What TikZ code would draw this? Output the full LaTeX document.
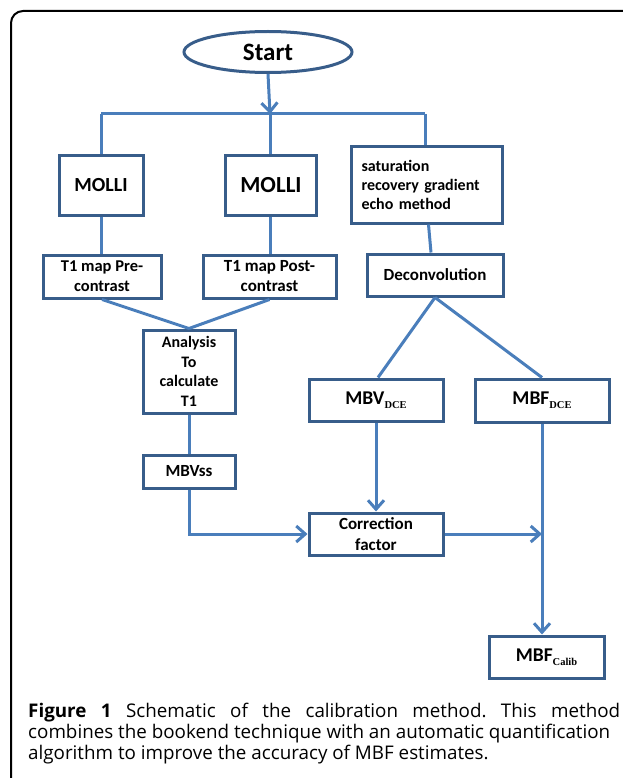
\documentclass[tikz,border=0pt]{standalone}
\usepackage{fontspec}
\setmainfont{Carlito}
\newfontfamily\capfont{Open Sans}
\newfontfamily\subfont{Liberation Serif}
\usetikzlibrary{arrows.meta,shapes.geometric}
\definecolor{boxline}{RGB}{56,93,138}
\definecolor{linkblue}{RGB}{74,126,187}
\newcommand{\subtxt}[1]{\raisebox{-4pt}{\fontsize{10.5}{12}\selectfont\subfont\bfseries #1}}
\frenchspacing
\begin{document}
\begin{tikzpicture}[x=1pt,y=-1pt,
  box/.style={draw=boxline, line width=3pt, fill=white, inner sep=0pt, align=center, font=\bfseries},
  link/.style={draw=linkblue, line width=3pt},
  arr/.style={link, -{Straight Barb[length=9pt,width=16pt]}},
]
\useasboundingbox (0,0) rectangle (622,778);
% outer frame
\draw[line width=2pt, black, rounded corners=12pt] (11,790) -- (11,11) -- (640,11);

% nodes
\node[box, ellipse, minimum width=168pt, minimum height=41pt, font=\bfseries\fontsize{25}{28}\selectfont] (start) at (268,52) {Start};
\node[box, minimum width=84pt, minimum height=59pt, font=\bfseries\fontsize{20}{24}\selectfont] (m1) at (101,185.5) {MOLLI};
\node[box, minimum width=91pt, minimum height=59pt, font=\bfseries\fontsize{23}{26}\selectfont] (m2) at (271,185.5) {MOLLI};
\node[box, minimum width=151pt, minimum height=76pt, text width=130pt, align=left, font=\bfseries\fontsize{16}{19}\selectfont] (sat) at (426.5,185) {saturation\\recovery gradient\\echo method};
\node[box, minimum width=118pt, minimum height=43pt, font=\bfseries\fontsize{16.5}{20}\selectfont] (t1pre) at (102,276.5) {T1 map Pre-\\contrast};
\node[box, minimum width=133pt, minimum height=43pt, font=\bfseries\fontsize{17}{20}\selectfont] (t1post) at (269.5,276.5) {T1 map Post-\\contrast};
\node[box, minimum width=136pt, minimum height=42pt, font=\bfseries\fontsize{17}{20}\selectfont] (dec) at (435,275) {Deconvolution};
\node[box, minimum width=92pt, minimum height=83pt, font=\bfseries\fontsize{16}{19.5}\selectfont] (ana) at (189,371.5) {Analysis\\To\\calculate\\T1};
\node[box, minimum width=92pt, minimum height=33pt, font=\bfseries\fontsize{17}{20}\selectfont] (mbvss) at (189,471.5) {MBVss};
\node[box, minimum width=134pt, minimum height=42pt, font=\bfseries\fontsize{19.5}{22}\selectfont] (mbv) at (376,400) {MBV\subtxt{DCE}};
\node[box, minimum width=134pt, minimum height=43pt, font=\bfseries\fontsize{19.5}{22}\selectfont] (mbf) at (542,400.5) {MBF\subtxt{DCE}};
\node[box, minimum width=134pt, minimum height=42pt, font=\bfseries\fontsize{17}{21}\selectfont] (corr) at (376,534) {Correction\\factor};
\node[box, minimum width=115pt, minimum height=42pt, font=\bfseries\fontsize{19.5}{22}\selectfont] (calib) at (546.5,657) {MBF\subtxt{Calib}};

% connectors
\coordinate (hl) at (101,114);
\coordinate (hm) at (270,114);
\coordinate (hr) at (425,114);
\draw[arr] (start.south) -- (hm);
\draw[link] (hl) -- (hr);
\draw[link] (hl) -- (m1.north);
\draw[link] (hm) -- (hm |- m2.north);
\draw[link] (hr) -- (hr |- sat.north);
\draw[link] (m1.south) -- (t1pre.north -| m1.south);
\draw[link] (m2.south -| hm) -- (t1post.north -| hm);
\draw[link] ([xshift=2pt]sat.south) -- ([xshift=-4pt]dec.north);
\draw[link] (t1pre.south) -- (ana.north);
\draw[link] (t1post.south) -- (ana.north);
\draw[link] (ana.south) -- (mbvss.north);
\draw[link] (dec.south) -- ([xshift=2pt]mbv.north);
\draw[link] (dec.south) -- (mbf.north);
\draw[arr] (mbvss.south) |- (corr.west);
\draw[arr] (mbv.south) -- (corr.north);
\coordinate (jn) at (mbf.south |- corr.east);
\draw[arr] (corr.east) -- (jn);
\draw[arr] (mbf.south) -- (mbf.south |- calib.north);

% caption
\begin{scope}[every node/.style={anchor=base west, inner sep=0pt, font=\capfont\fontsize{18.8}{21}\selectfont}]
\node (cap1) at (28,717) {\makebox[592pt][s]{{\bfseries Figure 1} Schematic of the calibration method. This method}};
\node (cap2) at (28,738) {combines the bookend technique with an automatic quantification};
\node (cap3) at (28,759) {algorithm to improve the accuracy of MBF estimates.};
\end{scope}
\end{tikzpicture}
\end{document}
